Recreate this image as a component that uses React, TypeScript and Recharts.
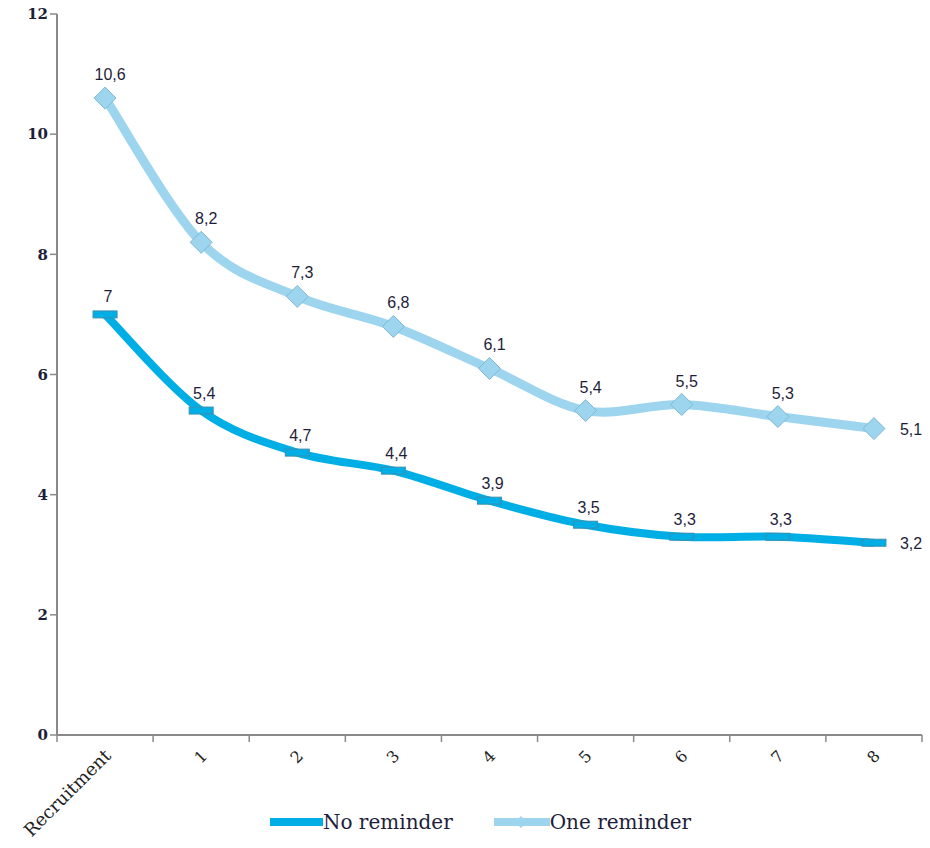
import React from "react";
import { LineChart, Line, XAxis, YAxis, Legend } from "recharts";

const categories = ["Recruitment", "1", "2", "3", "4", "5", "6", "7", "8"];
const noReminder = [7, 5.4, 4.7, 4.4, 3.9, 3.5, 3.3, 3.3, 3.2];
const oneReminder = [10.6, 8.2, 7.3, 6.8, 6.1, 5.4, 5.5, 5.3, 5.1];
const yTicks = [0, 2, 4, 6, 8, 10, 12];

const data = categories.map((c, i) => ({
  cat: c,
  none: noReminder[i],
  one: oneReminder[i],
}));

const DARK = "#00AEE6";
const LIGHT = "#9DD5EF";
const AXIS = "#8a8a8a";
const TEXT = "#1e1e3a";
const SERIF = "'DejaVu Serif', 'Liberation Serif', serif";
const SANS = "'Liberation Sans', Arial, sans-serif";
const BAND = 865 / categories.length;

const fmt = (v: number) => String(v).replace(".", ",");

// Excel-style smoothed line (Catmull-Rom like, 1/6 control points)
// eslint-disable-next-line @typescript-eslint/no-explicit-any
const smoothCurve = (ctx: any) => {
  let pts: number[][] = [];
  return {
    areaStart() {},
    areaEnd() {},
    lineStart() {
      pts = [];
    },
    point(x: number, y: number) {
      pts.push([+x, +y]);
    },
    lineEnd() {
      if (!pts.length) return;
      ctx.moveTo(pts[0][0], pts[0][1]);
      for (let i = 0; i < pts.length - 1; i++) {
        const p0 = pts[i - 1] || pts[i];
        const p1 = pts[i];
        const p2 = pts[i + 1];
        const p3 = pts[i + 2] || p2;
        ctx.bezierCurveTo(
          p1[0] + (p2[0] - p0[0]) / 6,
          p1[1] + (p2[1] - p0[1]) / 6,
          p2[0] - (p3[0] - p1[0]) / 6,
          p2[1] - (p3[1] - p1[1]) / 6,
          p2[0],
          p2[1]
        );
      }
    },
  };
};

// eslint-disable-next-line @typescript-eslint/no-explicit-any
const DiamondDot = (p: any) => {
  const { cx, cy, index } = p;
  const r = 11;
  return (
    <polygon
      key={`d${index}`}
      points={`${cx},${cy - r} ${cx + r},${cy} ${cx},${cy + r} ${cx - r},${cy}`}
      fill={LIGHT}
      stroke="#7fb8d4"
      strokeWidth={1}
    />
  );
};

// eslint-disable-next-line @typescript-eslint/no-explicit-any
const DashDot = (p: any) => {
  const { cx, cy, index } = p;
  return (
    <rect
      key={`r${index}`}
      x={cx - 12}
      y={cy - 3.5}
      width={24}
      height={7}
      fill={DARK}
      stroke="#3a8fb0"
      strokeWidth={1}
    />
  );
};

const makeLabel = (gap: number, dx: number) =>
  // eslint-disable-next-line @typescript-eslint/no-explicit-any
  (p: any) => {
    const { x, y, value, index } = p;
    const last = index === categories.length - 1;
    return (
      <text
        key={`l${index}`}
        x={last ? x + 26 : x + dx}
        y={last ? y + 6 : y - gap}
        textAnchor={last ? "start" : "middle"}
        fontFamily={SANS}
        fontSize={16}
        fill={TEXT}
      >
        {fmt(value)}
      </text>
    );
  };

// eslint-disable-next-line @typescript-eslint/no-explicit-any
const XTick = (p: any) => {
  const { x, y, payload, index } = p;
  const left = x - BAND / 2;
  const last = index === categories.length - 1;
  const long = payload.value.length > 2;
  return (
    <g>
      <line x1={left} y1={y - 2} x2={left} y2={y + 5} stroke={AXIS} strokeWidth={1.5} />
      {last && <line x1={left + BAND} y1={y - 2} x2={left + BAND} y2={y + 5} stroke={AXIS} strokeWidth={1.5} />}
      <g transform={`translate(${x + 7},${y + 20})`}>
        <text transform="rotate(-45)" textAnchor="end" fontFamily={SERIF} fontSize={long ? 18 : 16} fill="#222">
          {payload.value}
        </text>
      </g>
    </g>
  );
};

const LegendContent = () => (
  <div style={{ display: "flex", justifyContent: "center", alignItems: "center", paddingLeft: 30, fontFamily: SERIF, fontSize: 20, color: TEXT }}>
    <svg width={54} height={12}>
      <line x1={1} y1={6} x2={54} y2={6} stroke={DARK} strokeWidth={8} />
    </svg>
    <span style={{ marginRight: 40 }}>No reminder</span>
    <svg width={57} height={16}>
      <line x1={1} y1={8} x2={57} y2={8} stroke={LIGHT} strokeWidth={8} />
      <polygon points="28,2 34,8 28,14 22,8" fill={LIGHT} />
    </svg>
    <span>One reminder</span>
  </div>
);

export default function App() {
  return (
    <div style={{ position: "absolute", left: 0, top: 0, width: 930, height: 848, background: "#fff" }}>
      <LineChart width={930} height={848} data={data} margin={{ top: 14, right: 8, left: 0, bottom: 0 }}>
        <XAxis
          dataKey="cat"
          scale="band"
          height={113}
          axisLine={{ stroke: AXIS, strokeWidth: 2 }}
          tickLine={false}
          tickSize={0}
          interval={0}
          tick={<XTick />}
        />
        <YAxis
          domain={[0, 12]}
          ticks={yTicks}
          width={57}
          axisLine={{ stroke: AXIS, strokeWidth: 2 }}
          tickLine={{ stroke: AXIS, strokeWidth: 1.5 }}
          tickSize={7}
          tick={{ fontFamily: SERIF, fontSize: 15, fontWeight: 700, fill: TEXT }}
        />
        <Legend
          layout="horizontal"
          verticalAlign="middle"
          align="center"
          wrapperStyle={{ top: 810, left: 0, width: 930 }}
          content={<LegendContent />}
        />
        <Line
          type={smoothCurve}
          dataKey="one"
          name="One reminder"
          stroke={LIGHT}
          strokeWidth={9}
          dot={DiamondDot}
          activeDot={false}
          label={makeLabel(18, 5)}
          isAnimationActive={false}
        />
        <Line
          type={smoothCurve}
          dataKey="none"
          name="No reminder"
          stroke={DARK}
          strokeWidth={8}
          dot={DashDot}
          activeDot={false}
          label={makeLabel(12, 3)}
          isAnimationActive={false}
        />
      </LineChart>
    </div>
  );
}
